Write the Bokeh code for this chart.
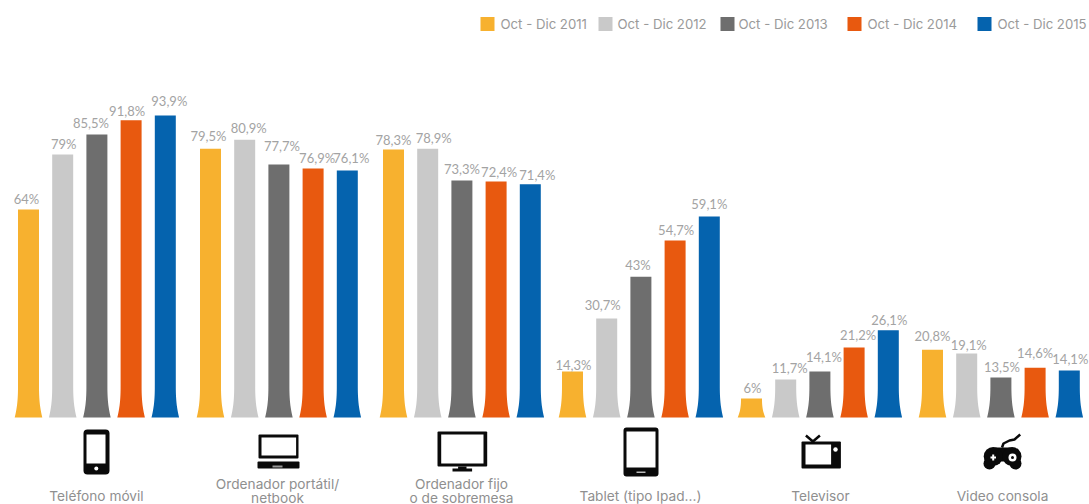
import numpy as np
from bokeh.plotting import figure
from bokeh.models import Range1d, ColumnDataSource
from bokeh.core.properties import value
from bokeh.embed import file_html
from bokeh.resources import INLINE

categories = ["Teléfono móvil", "Ordenador portátil/\nnetbook", "Ordenador fijo\no de sobremesa",
              "Tablet (tipo Ipad...)", "Televisor", "Video consola"]
periods = ["Oct - Dic 2011", "Oct - Dic 2012", "Oct - Dic 2013", "Oct - Dic 2014", "Oct - Dic 2015"]
colors = ["#F7B12F", "#C9C9C9", "#6E6E6E", "#E8590F", "#0563AE"]

# printed labels
printed_2011 = ["64%", "79,5%", "78,3%", "14,3%", "6%", "20,8%"]
printed_2012 = ["79%", "80,9%", "78,9%", "30,7%", "11,7%", "19,1%"]
printed_2013 = ["85,5%", "77,7%", "73,3%", "43%", "14,1%", "13,5%"]
printed_2014 = ["91,8%", "76,9%", "72,4%", "54,7%", "21,2%", "14,6%"]
printed_2015 = ["93,9%", "76,1%", "71,4%", "59,1%", "26,1%", "14,1%"]

# bar heights as drawn in the picture (the source art is not exactly to scale)
drawn_2011 = [64.7, 83.6, 83.3, 14.3, 5.9, 21.1]
drawn_2012 = [81.8, 86.4, 83.6, 30.8, 11.8, 19.9]
drawn_2013 = [88.0, 78.7, 73.7, 43.8, 14.3, 12.4]
drawn_2014 = [92.4, 77.4, 73.4, 55.0, 21.8, 15.5]
drawn_2015 = [93.9, 76.8, 72.5, 62.5, 27.1, 14.6]

printed = [printed_2011, printed_2012, printed_2013, printed_2014, printed_2015]
drawn = [drawn_2011, drawn_2012, drawn_2013, drawn_2014, drawn_2015]

# layout
PX = 3.216
BASE = 417
group_x = [28, 210, 393, 572, 751, 932]
slot = 34.2
cat_x = [96, 277, 461, 640, 820, 1002]
nudge_x = [[-2, -2, 0, 1, 1, 0], [1, 4, 6, -4, 4, 2], [-6, 3, 0, -3, 4, 1], [-4, 4, 3, 1, 4, 0], [4, 4, 7, 0, 1, 1]]
nudge_y = [[-10, -13, -10, -7, -11, -14], [-10, -12, -11, -13, -12, -9], [-11, -18, -11, -12, -15, -11],
           [-9, -11, -9, -11, -12, -15], [-15, -13, -9, -13, -10, -12]]


def Y(py):
    return (BASE - py) / PX


p = figure(width=1089, height=504, output_backend="svg", toolbar_location=None,
           x_range=Range1d(0, 1089), y_range=Range1d(Y(504), Y(0)), min_border=0,
           outline_line_color=None, background_fill_color="white", border_fill_color="white")
p.xaxis.visible = False
p.yaxis.visible = False
p.grid.visible = False

TXT = "#A3A3A3"
FONT = value("Lato")

t = np.linspace(0, 1, 14)
for s, col in enumerate(colors):
    xs, ys = [], []
    for g, h in enumerate(drawn[s]):
        cx = group_x[g] + s * slot
        fh = min(h, 10)
        hw = 10.5 + 3.3 * (1 - t) ** 2.5
        ya = t * fh
        xs.append(list(cx - hw) + [cx - 10.5, cx + 10.5] + list((cx + hw)[::-1]))
        ys.append(list(ya) + [h, h] + list(ya[::-1]))
    p.patches(xs, ys, fill_color=col, line_color=None)
    src = ColumnDataSource(dict(
        x=[group_x[g] + s * slot + nudge_x[s][g] for g in range(6)],
        y=drawn[s], t=printed[s], o=nudge_y[s]))
    p.text("x", "y", text="t", y_offset="o", source=src, text_align="center", text_baseline="middle",
           text_font=FONT, text_font_size="13px", text_color=TXT)

# legend
leg_sw = [480, 598, 720, 847, 977]
leg_tx = [500, 617, 738, 867, 997]
for s, col in enumerate(colors):
    p.quad(left=[leg_sw[s]], right=[leg_sw[s] + 14], top=[Y(16.5)], bottom=[Y(30.5)], fill_color=col, line_color=None)
    p.text([leg_tx[s]], [Y(23)], text=[periods[s]], text_baseline="middle", text_font=value("Inter"),
           text_font_size="13.2px", text_color="#9A9A9A")

# category labels
cat_lines = [c.split("\n") for c in categories]
for g, lines in enumerate(cat_lines):
    ys = [495] if len(lines) == 1 else [483, 497]
    for line, yy in zip(lines, ys):
        p.text([cat_x[g]], [Y(yy)], text=[line], text_align="center", text_baseline="middle",
               text_font=value("Inter"), text_font_size="13.7px", text_color="#8F8F8F")


def box(x0, y0, x1, y1, color="#0A0A0A", r=0):
    p.quad(left=[x0], right=[x1], top=[Y(y0)], bottom=[Y(y1)], fill_color=color, line_color=None, border_radius=r)


def dot(x, y, d, color="#0A0A0A"):
    p.scatter([x], [Y(y)], size=d, fill_color=color, line_color=None)


# phone
box(83, 429, 109, 474, r=4)
box(86, 434, 105, 463, "white")
dot(95.8, 468, 4, "white")
# laptop
box(258, 434, 298, 458, r=1)
box(261, 437, 295.6, 455, "white")
box(257, 461, 299, 468, r=1)
box(272, 465, 282, 467, "#999999")
# monitor
box(437, 431, 486.7, 466, r=1)
box(440.7, 434, 483, 463, "white")
box(457.6, 466, 466, 469)
box(452, 468, 471.6, 471)
# tablet
box(623, 427, 658, 476, r=3)
box(626, 431, 655, 467, "white")
box(636, 471, 645, 472.5, "#bbbbbb")
# television
box(801, 441, 840.4, 468, r=1)
box(805, 444, 830.6, 464, "white")
dot(835, 449, 4.5, "white")
p.line([805.4, 812.4, 819.4], [Y(435), Y(441), Y(435)], line_color="#0A0A0A", line_width=2.5)
# game pad
box(990, 447, 1014, 461, r=5)
dot(992.7, 456, 19)
dot(1011.5, 456, 19)
dot(989, 463, 12)
dot(1015, 463, 12)
box(990, 456, 995.5, 458, "white")
box(991.7, 454, 993.7, 460, "white")
dot(1012, 457, 8, "white")
dot(1012, 457, 3)
p.line([1001.5, 1003, 1009, 1014, 1019.7], [Y(447), Y(443), Y(440), Y(439), Y(434)], line_color="#0A0A0A", line_width=2.5)

open("out.html", "w").write(file_html(p, INLINE))
